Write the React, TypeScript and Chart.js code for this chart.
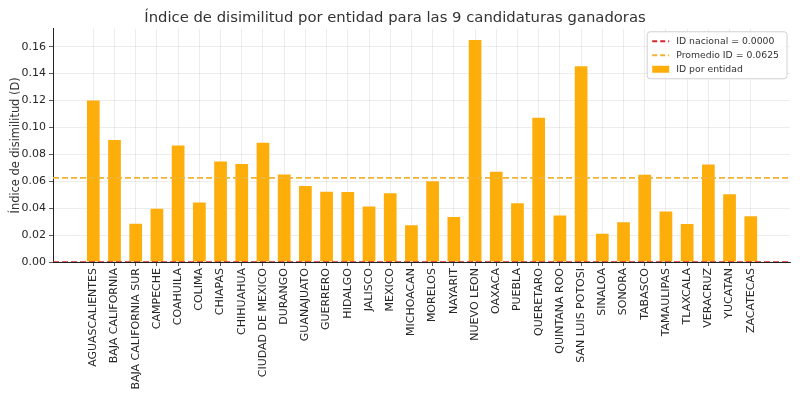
import { useEffect, useRef } from "react"
import { Chart, registerables } from "chart.js"

Chart.register(...registerables)

const entidades = [
  "AGUASCALIENTES", "BAJA CALIFORNIA", "BAJA CALIFORNIA SUR", "CAMPECHE", "COAHUILA",
  "COLIMA", "CHIAPAS", "CHIHUAHUA", "CIUDAD DE MEXICO", "DURANGO", "GUANAJUATO",
  "GUERRERO", "HIDALGO", "JALISCO", "MEXICO", "MICHOACAN", "MORELOS", "NAYARIT",
  "NUEVO LEON", "OAXACA", "PUEBLA", "QUERETARO", "QUINTANA ROO", "SAN LUIS POTOSI",
  "SINALOA", "SONORA", "TABASCO", "TAMAULIPAS", "TLAXCALA", "VERACRUZ", "YUCATAN", "ZACATECAS",
]

const idEntidad = [
  0.120, 0.0906, 0.0285, 0.0395, 0.0866, 0.0442, 0.0747, 0.0728, 0.0886, 0.065, 0.0565,
  0.0522, 0.052, 0.0412, 0.051, 0.0273, 0.060, 0.0335, 0.165, 0.067, 0.0437, 0.1072,
  0.0345, 0.1454, 0.021, 0.0296, 0.0648, 0.0375, 0.0283, 0.0725, 0.0504, 0.034,
]

const idNacional = 0.0
const promedioId = 0.0625

const yTicks = [0, 0.02, 0.04, 0.06, 0.08, 0.1, 0.12, 0.14, 0.16]

const X_MIN = -1.9
const X_MAX = 32.85
const FONT = "DejaVu Sans"

const BAR_COLOR = "#FDAE0B"
const RED = "#d62728"
const GOLD = "#F2B234"

// legend drawn inside the plot, matplotlib style
const insideLegend = {
  id: "insideLegend",
  afterDraw(chart: Chart) {
    const ctx = chart.ctx
    const area = chart.chartArea
    const items = [
      { kind: "line", color: RED, text: `ID nacional = ${idNacional.toFixed(4)}` },
      { kind: "line", color: GOLD, text: `Promedio ID = ${promedioId.toFixed(4)}` },
      { kind: "box", color: BAR_COLOR, text: "ID por entidad" },
    ]
    ctx.save()
    ctx.font = `9.3px "${FONT}"`
    const textW = Math.max(...items.map((i) => ctx.measureText(i.text).width))
    const w = textW + 37
    const h = items.length * 14 + 5
    const x = area.right - w - 3
    const y = area.top + 3
    ctx.fillStyle = "rgba(255,255,255,0.85)"
    ctx.strokeStyle = "#d0d0d0"
    ctx.lineWidth = 1
    ctx.beginPath()
    ctx.roundRect(x, y, w, h, 3)
    ctx.fill()
    ctx.stroke()
    items.forEach((it, i) => {
      const cy = y + 9.5 + i * 14
      if (it.kind === "line") {
        ctx.strokeStyle = it.color
        ctx.lineWidth = 1.8
        ctx.setLineDash([5, 3])
        ctx.beginPath()
        ctx.moveTo(x + 5, cy)
        ctx.lineTo(x + 22, cy)
        ctx.stroke()
        ctx.setLineDash([])
      } else {
        ctx.fillStyle = it.color
        ctx.fillRect(x + 5, cy - 3.5, 17, 7)
      }
      ctx.fillStyle = "#333"
      ctx.textBaseline = "middle"
      ctx.fillText(it.text, x + 29, cy + 0.5)
    })
    ctx.restore()
  },
}

export default function App() {
  const chartRef = useRef<HTMLCanvasElement>(null)
  const chartInstance = useRef<Chart | null>(null)

  useEffect(() => {
    if (!chartRef.current) return
    const ctx = chartRef.current.getContext("2d")
    if (!ctx) return
    if (chartInstance.current) chartInstance.current.destroy()

    chartInstance.current = new Chart(ctx, {
      type: "bar",
      data: {
        datasets: [
          {
            type: "line",
            label: "ID nacional",
            data: [
              { x: X_MIN, y: idNacional },
              { x: X_MAX, y: idNacional },
            ],
            borderColor: RED,
            borderWidth: 1.6,
            borderDash: [6, 3],
            pointRadius: 0,
          },
          {
            type: "line",
            label: "Promedio ID",
            data: [
              { x: X_MIN, y: promedioId },
              { x: X_MAX, y: promedioId },
            ],
            borderColor: GOLD,
            borderWidth: 1.8,
            borderDash: [6, 3],
            pointRadius: 0,
          },
          {
            type: "bar",
            label: "ID por entidad",
            data: idEntidad.map((v, i) => ({ x: i, y: v })),
            backgroundColor: BAR_COLOR,
            barPercentage: 0.6,
            categoryPercentage: 1,
            order: 3,
          },
        ],
      } as any,
      options: {
        animation: false,
        responsive: true,
        maintainAspectRatio: false,
        layout: { padding: { left: 0, right: 10, top: 0, bottom: 0 } },
        plugins: {
          legend: { display: false },
          tooltip: { enabled: false },
          title: {
            display: true,
            text: "Índice de disimilitud por entidad para las 9 candidaturas ganadoras",
            color: "#333",
            font: { family: FONT, size: 14.8, weight: "normal" },
            padding: { top: 9, bottom: 2 },
          },
        },
        scales: {
          x: {
            type: "linear",
            offset: false,
            min: X_MIN,
            max: X_MAX,
            afterBuildTicks: (axis: any) => {
              axis.ticks = entidades.map((_, i) => ({ value: i }))
            },
            afterFit: (axis: any) => {
              axis.height = 138
            },
            ticks: {
              autoSkip: false,
              maxRotation: 90,
              minRotation: 90,
              color: "#262626",
              font: { family: FONT, size: 11 },
              padding: 2,
              callback: (value: any) => entidades[value] ?? "",
            },
            grid: {
              offset: false,
              color: "rgba(0,0,0,0.09)",
              lineWidth: 0.8,
              tickColor: "#333",
              tickLength: 4,
            },
            border: { display: true, color: "#222", width: 1 },
          },
          y: {
            min: 0,
            max: 0.1733,
            afterBuildTicks: (axis: any) => {
              axis.ticks = yTicks.map((v) => ({ value: v }))
            },
            afterFit: (axis: any) => {
              axis.width = 53
            },
            ticks: {
              color: "#262626",
              font: { family: FONT, size: 11 },
              padding: 3,
              callback: (value: any) => Number(value).toFixed(2),
            },
            grid: {
              color: "rgba(0,0,0,0.09)",
              lineWidth: 0.8,
              tickColor: "#333",
              tickLength: 4,
            },
            border: { display: true, color: "#222", width: 1 },
            title: {
              display: true,
              text: "Índice de disimilitud (D)",
              color: "#333",
              font: { family: FONT, size: 11.4 },
              padding: { top: 9, bottom: 0 },
            },
          },
        },
      },
      plugins: [insideLegend],
    })

    return () => {
      if (chartInstance.current) {
        chartInstance.current.destroy()
        chartInstance.current = null
      }
    }
  }, [])

  return (
    <div style={{ position: "absolute", left: 0, top: 0, width: 800, height: 400 }}>
      <canvas ref={chartRef} />
    </div>
  )
}
